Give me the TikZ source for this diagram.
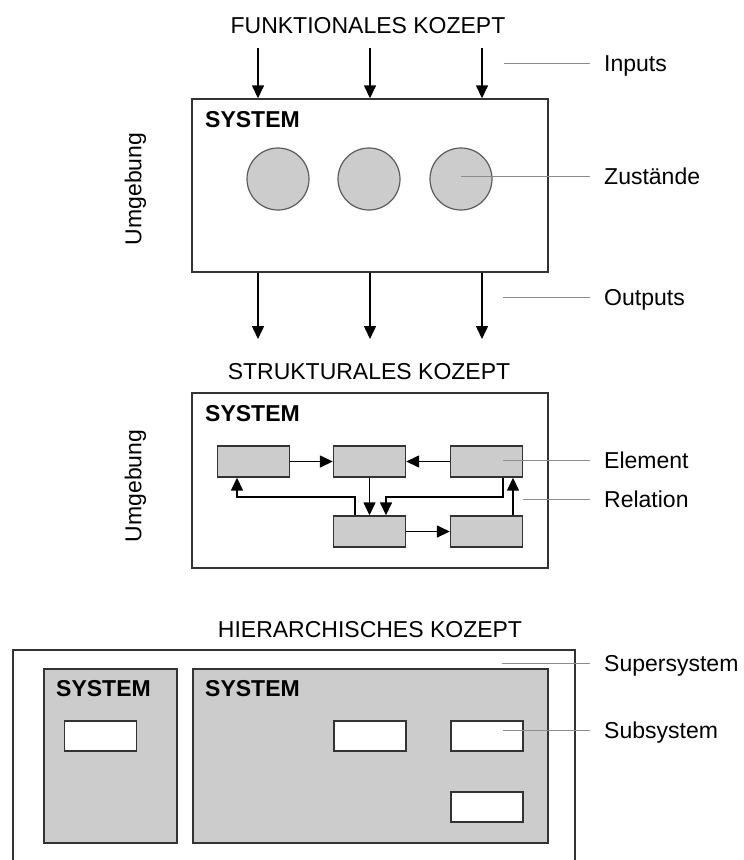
\documentclass[tikz,border=0pt]{standalone}
\usepackage{fontspec}
\setmainfont{Liberation Sans}
\usetikzlibrary{arrows.meta}
\definecolor{boxfill}{HTML}{CCCCCC}
\definecolor{edge}{HTML}{333333}
\definecolor{leadcol}{HTML}{8C8C8C}
\tikzset{
  txt/.style={font=\fontsize{23}{27}\selectfont, inner sep=0pt, text height=16.5pt, text depth=0pt},
  title/.style={txt},
  lbl/.style={txt, anchor=west},
  systag/.style={txt, font=\fontsize{23}{27}\selectfont\bfseries, anchor=west},
  frame/.style={draw=edge, line width=1.4pt, fill=white, inner sep=0pt},
  grayframe/.style={draw=edge, line width=1.4pt, fill=boxfill, inner sep=0pt},
  state/.style={circle, draw=edge!80, line width=1.2pt, fill=boxfill, minimum size=62pt, inner sep=0pt},
  elem/.style={grayframe, minimum width=72pt, minimum height=31pt},
  sub/.style={frame, minimum width=72pt, minimum height=30pt},
  arr/.style={draw=black, line width=1.5pt, -{Triangle[length=13pt,width=12pt]}},
  lead/.style={draw=leadcol, line width=0.8pt},
}
\begin{document}
\begin{tikzpicture}[x=1pt, y=-1pt]
\clip (0,0) rectangle (744,860);
\fill[white] (0,0) rectangle (744,860);

% ---------- functional concept ----------
\node[title] (t1) at (368,25) {FUNKTIONALES KOZEPT};
\node[frame, minimum width=356pt, minimum height=173pt] (sys1) at (370,185.5) {};
\node[systag] at (205,119) {SYSTEM};
\node[state] (c1) at (278,179) {};
\node[state] (c2) at (369,179) {};
\node[state] (c3) at (461,179) {};
\node[txt, rotate=90] (u1) at (133,189) {Umgebung};

\coordinate (in1) at (258,48);
\coordinate (in2) at (370,48);
\coordinate (in3) at (482,48);
\draw[arr] (in1) -- (in1 |- sys1.north);
\draw[arr] (in2) -- (in2 |- sys1.north);
\draw[arr] (in3) -- (in3 |- sys1.north);
\coordinate (out1) at (258,339);
\coordinate (out2) at (370,339);
\coordinate (out3) at (482,339);
\draw[arr] (out1 |- sys1.south) -- (out1);
\draw[arr] (out2 |- sys1.south) -- (out2);
\draw[arr] (out3 |- sys1.south) -- (out3);

\node[lbl] (lIn) at (604,63) {Inputs};
\node[lbl] (lZu) at (604,176) {Zustände};
\node[lbl] (lOut) at (604,297) {Outputs};
\draw[lead] ([xshift=-14pt]lIn.west) -- ++(-86pt,0);
\draw[lead] ([xshift=-14pt]lZu.west) -- (c3.center |- lZu.west);
\draw[lead] ([xshift=-14pt]lOut.west) -- ++(-87pt,0);

% ---------- structural concept ----------
\node[title] (t2) at (369,371) {STRUKTURALES KOZEPT};
\node[frame, minimum width=356pt, minimum height=175pt] (sys2) at (370,480.5) {};
\node[systag] at (205,413) {SYSTEM};
\node[txt, rotate=90] (u2) at (133,486) {Umgebung};

\node[elem] (A) at (253.5,461.5) {};
\node[elem] (B) at (369.5,461.5) {};
\node[elem] (C) at (486.5,461.5) {};
\node[elem] (D) at (369.5,531.5) {};
\node[elem] (E) at (486.5,531.5) {};
\coordinate (jr) at (386,497);
\coordinate (jl) at (237,497);

\draw[arr] (A.east) -- (B.west);
\draw[arr] (C.west) -- (B.east);
\draw[arr] (B.south) -- (D.north);
\draw[arr] ([xshift=16.5pt]C.south) |- (jr) -- (jr |- D.north);
\draw[arr] ([xshift=-14.5pt]D.north) |- (jl) -- (jl |- A.south);
\draw[arr] ([xshift=26.5pt]E.north) -- ([xshift=26.5pt]C.south);
\draw[arr] (D.east) -- (E.west);

\node[lbl] (lEl) at (604,460) {Element};
\node[lbl] (lRel) at (604,499) {Relation};
\draw[lead] ([xshift=-14pt]lEl.west) -- ([xshift=16.5pt]C.center |- lEl.west);
\draw[lead] ([xshift=-14pt]lRel.west) -- ++(-67pt,0);

% ---------- hierarchical concept ----------
\node[title] (t3) at (370,629) {HIERARCHISCHES KOZEPT};
\node[frame, minimum width=562pt, minimum height=240pt] (super) at (294,770) {};
\node[grayframe, minimum width=133pt, minimum height=174pt] (sysL) at (110.5,756) {};
\node[grayframe, minimum width=355pt, minimum height=174pt] (sysR) at (370.5,756) {};
\node[systag] at (56,688) {SYSTEM};
\node[systag] at (205,688) {SYSTEM};
\node[sub] (s0) at (100.5,736) {};
\node[sub] (s1) at (370,736) {};
\node[sub] (s2) at (487,736) {};
\node[sub] (s3) at (487,807) {};

\node[lbl] (lSup) at (604,663) {Supersystem};
\node[lbl] (lSub) at (604,730) {Subsystem};
\draw[lead] ([xshift=-14pt]lSup.west) -- ++(-88pt,0);
\draw[lead] ([xshift=-14pt]lSub.west) -- ([xshift=16pt]s2.center |- lSub.west);
\end{tikzpicture}
\end{document}
